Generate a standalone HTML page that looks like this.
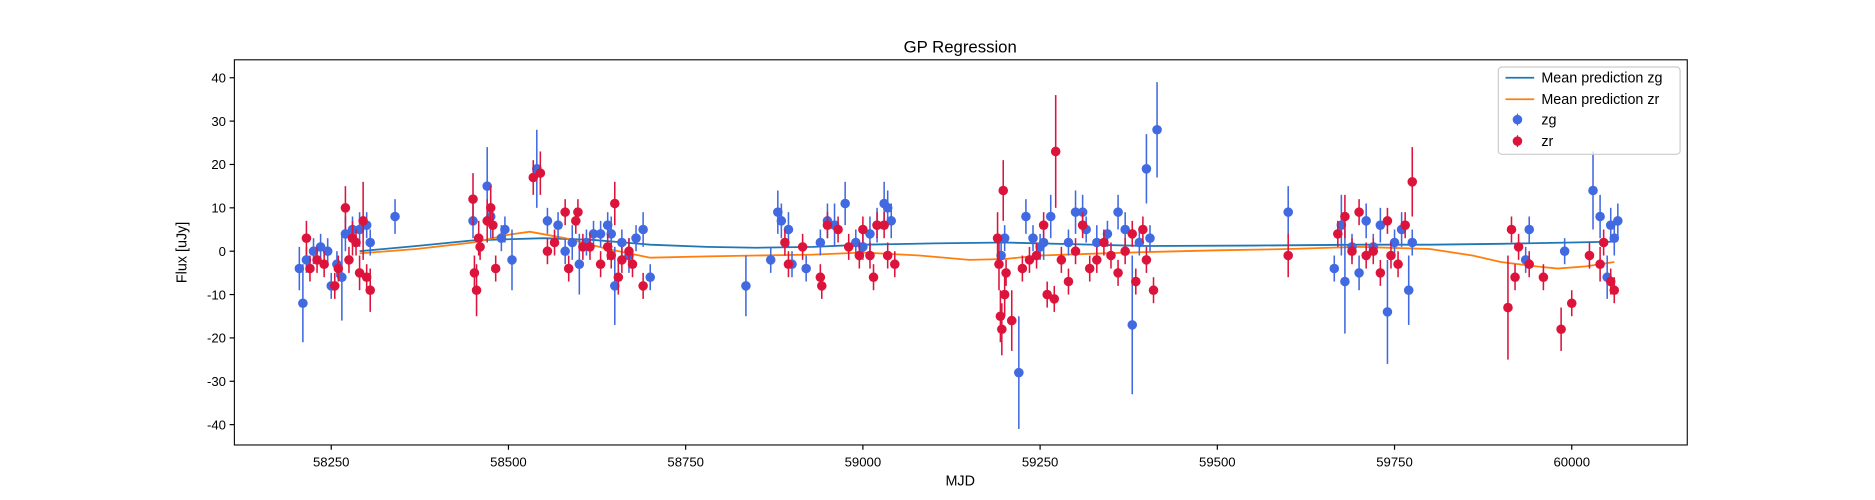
<!DOCTYPE html>
<html><head><meta charset="utf-8">
<style>
html,body{margin:0;padding:0;background:#fff;overflow:hidden;}
svg{display:block;font-family:"Liberation Sans","DejaVu Sans",sans-serif;}
</style></head>
<body>
<svg id="chart" width="1875" height="500" viewBox="0 0 1568 418" preserveAspectRatio="none">
<rect x="0" y="0" width="1568" height="418" fill="#fff"/>
<text x="803" y="44" text-anchor="middle" font-size="14">GP Regression</text>
<g id="plot"></g>
<rect x="196" y="50" width="1215" height="322" fill="none" stroke="#000" stroke-width="0.9"/>
<g id="axes"></g>
<text x="803" y="406" text-anchor="middle" font-size="12">MJD</text>
<text x="156" y="211" text-anchor="middle" font-size="12" transform="rotate(-90 156 211)">Flux [uJy]</text>
<g>
<rect x="1253" y="56" width="152" height="73" rx="3" fill="#fff" fill-opacity="0.8" stroke="#ccc"/>
<g><line x1="1259" y1="65" x2="1283" y2="65" stroke="#1f77b4" stroke-width="1.5"/><text x="1289" y="69" font-size="12">Mean prediction zg</text></g>
<g><line x1="1259" y1="83" x2="1283" y2="83" stroke="#ff7f0e" stroke-width="1.5"/><text x="1289" y="87" font-size="12">Mean prediction zr</text></g>
<g><line x1="1269" y1="95" x2="1269" y2="105" stroke="#4169e1"/><circle cx="1269" cy="100" r="4" fill="#4169e1"/><text x="1289" y="104" font-size="12">zg</text></g>
<g><line x1="1269" y1="113" x2="1269" y2="123" stroke="#dc143c"/><circle cx="1269" cy="118" r="4" fill="#dc143c"/><text x="1289" y="122" font-size="12">zr</text></g>
</g>
</svg>
<script>
const xTicks=[58250,58500,58750,59000,59250,59500,59750,60000];
const yTicks=[-40,-30,-20,-10,0,10,20,30,40];
const zgT=[58205,58210,58215,58225,58235,58245,58250,58258,58265,58270,58280,58290,58300,58305,58340,58450,58470,58475,58490,58495,58505,58540,58555,58570,58580,58590,58600,58610,58620,58630,58640,58645,58650,58660,58670,58680,58690,58700,58835,58870,58880,58885,58895,58900,58920,58940,58950,58960,58975,58990,59000,59010,59020,59030,59035,59040,59195,59200,59220,59230,59240,59250,59255,59265,59290,59300,59310,59315,59330,59345,59360,59370,59380,59390,59400,59405,59415,59600,59665,59675,59680,59690,59700,59710,59720,59730,59740,59750,59760,59770,59775,59935,59940,59990,60030,60040,60050,60055,60060,60065];
const zgF=[-4,-12,-2,0,1,0,-8,-3,-6,4,5,5,6,2,8,7,15,8,3,5,-2,19,7,6,0,2,-3,2,4,4,6,4,-8,2,-1,3,5,-6,-8,-2,9,7,5,-3,-4,2,7,6,11,2,1,4,6,11,10,7,-1,3,-28,8,3,1,2,8,2,9,9,5,2,4,9,5,-17,2,19,3,28,9,-4,6,-7,1,-5,7,1,6,-14,2,5,-9,2,-2,5,0,14,8,-6,6,3,7];
const zgE=[5,9,3,3,3,3,3,3,10,4,3,4,3,3,4,4,9,5,3,3,7,9,3,3,3,4,7,3,3,3,3,4,9,3,4,3,4,3,7,3,5,4,4,3,3,3,4,5,5,3,3,4,4,5,4,4,3,3,13,4,3,3,4,5,3,5,4,3,4,3,4,4,16,3,8,3,11,6,3,7,12,3,4,4,3,4,12,3,4,8,3,3,3,3,9,5,5,4,4,4];
const zrT=[58215,58220,58230,58240,58255,58260,58270,58275,58280,58285,58290,58295,58300,58305,58450,58452,58455,58458,58460,58470,58475,58478,58482,58535,58545,58555,58565,58580,58585,58595,58598,58605,58615,58630,58640,58645,58650,58655,58660,58670,58675,58690,58890,58895,58915,58940,58942,58950,58965,58980,58995,59000,59010,59015,59020,59030,59035,59045,59190,59192,59194,59196,59198,59200,59202,59210,59225,59235,59245,59255,59260,59270,59272,59280,59290,59300,59310,59320,59330,59340,59350,59360,59370,59380,59385,59395,59400,59410,59600,59670,59680,59690,59700,59710,59720,59730,59740,59745,59755,59765,59775,59910,59915,59920,59925,59940,59960,59985,60000,60025,60040,60045,60055,60060];
const zrF=[3,-4,-2,-3,-8,-4,10,-2,3,2,-5,7,-6,-9,12,-5,-9,3,1,7,10,6,-4,17,18,0,2,9,-4,7,9,1,1,-3,1,-1,11,-6,-2,0,-3,-8,2,-3,1,-6,-8,6,5,1,-1,5,-1,-6,6,6,-1,-3,3,-3,-15,-18,14,-10,-5,-16,-4,-2,-1,6,-10,-11,23,-2,-7,0,6,-4,-2,2,-1,-5,0,4,-7,5,-2,-9,-1,4,8,0,9,-1,0,-5,7,-1,-3,6,16,-13,5,-6,1,-3,-6,-18,-12,-1,-3,2,-7,-9];
const zrE=[4,3,3,3,3,3,5,3,4,3,4,9,3,5,6,4,6,4,3,5,5,3,3,4,5,3,3,3,3,3,3,3,3,3,3,3,5,4,3,3,3,3,3,3,3,3,3,3,3,3,3,3,3,3,3,3,3,3,6,6,6,6,7,5,3,7,3,3,3,3,3,3,13,3,3,3,3,3,3,3,3,3,3,3,3,3,3,3,5,3,5,3,3,3,3,3,3,3,3,3,8,12,3,3,3,3,3,5,3,3,4,3,3,3];
const zgMeanT=[58290,58370,58450,58550,58620,58700,58780,58850,58930,59000,59100,59200,59300,59400,59550,59700,59800,59900,60000,60060];
const zgMean=[0,1.2,2.5,3,2.6,1.5,1,0.8,1,1.5,1.8,2,1.6,1.2,1.3,1.5,1.5,1.7,2,2.2];
const zrMeanT=[58290,58370,58450,58500,58530,58580,58640,58700,58780,58850,58930,59000,59080,59150,59200,59250,59320,59400,59500,59600,59700,59800,59860,59900,59950,59980,60020,60060];
const zrMean=[-0.5,0.5,2,3.8,4.5,3,0.5,-1.5,-1.2,-1,-0.8,-0.3,-1,-2,-1.8,-1,-0.6,-0.2,0.2,0.5,1,0.5,-1,-2.5,-3.5,-4,-3.5,-2.5];

const NS='http://www.w3.org/2000/svg';
const X=v=>277+(v-58250)*148.2/250;
const Y=v=>210-v*3.625;
function mk(tag,attrs,parent){const e=document.createElementNS(NS,tag);for(const k in attrs)e.setAttribute(k,attrs[k]);parent.appendChild(e);return e;}
const axes=document.getElementById('axes'),plot=document.getElementById('plot');
xTicks.forEach(t=>{const g=mk('g',{},axes);


mk('line',{x1:X(t),x2:X(t),y1:372,y2:376,stroke:'#000'},g);
const s=mk('text',{x:X(t),y:390,'text-anchor':'middle','font-size':'11'},g);s.textContent=t;});
yTicks.forEach(t=>{const g=mk('g',{},axes);


mk('line',{x1:192,x2:196,y1:Y(t),y2:Y(t),stroke:'#000'},g);
const s=mk('text',{x:189,y:Y(t)+4,'text-anchor':'end','font-size':'11'},g);s.textContent=t;});
function line(ts,vs,col,name){const p=mk('polyline',{points:ts.map((t,i)=>X(t)+','+Y(vs[i])).join(' '),fill:'none',stroke:col,'stroke-width':1.5},plot);

}
function pts(ts,fs,es,col,name){const g=mk('g',{},plot);


ts.forEach((t,i)=>{mk('line',{x1:X(t),x2:X(t),y1:Y(fs[i]-es[i]),y2:Y(fs[i]+es[i]),stroke:col,'stroke-width':1.3},g);
const c=mk('circle',{cx:X(t),cy:Y(fs[i]),r:4,fill:col},g);

});}
line(zgMeanT,zgMean,'#1f77b4','mean-line-zg');
line(zrMeanT,zrMean,'#ff7f0e','mean-line-zr');
pts(zgT,zgF,zgE,'#4169e1','series-zg');
pts(zrT,zrF,zrE,'#dc143c','series-zr');
</script>
</body></html>
